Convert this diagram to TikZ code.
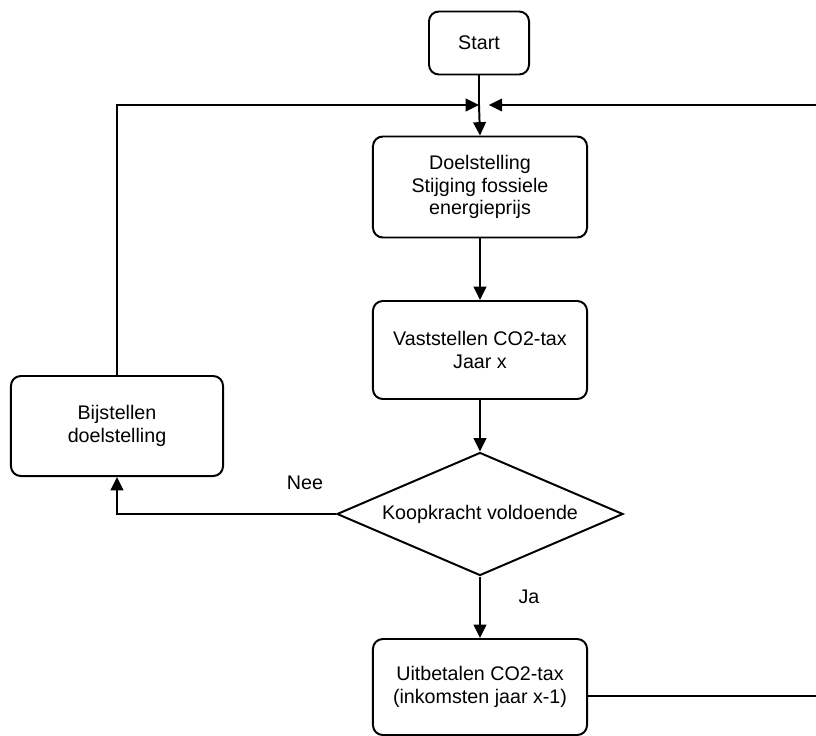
\documentclass[tikz,border=0pt]{standalone}
\usepackage{fontspec}
\setmainfont{Liberation Sans}
\usetikzlibrary{arrows.meta,positioning,calc,shapes.geometric}

\begin{document}
\begin{tikzpicture}[
  x=0.025cm, y=-0.025cm,
  >={Triangle[length=9.5pt,width=9pt]},
  font=\fontsize{14}{16.2}\selectfont,
  stap/.style={draw=black, line width=1.4pt, rounded corners=7pt, fill=white, align=center, inner sep=3pt, minimum width=5.35cm, minimum height=2.45cm},
  keuze/.style={draw=black, line width=1.4pt, diamond, aspect=2.3, inner sep=0pt, minimum width=7.15cm, minimum height=3.075cm, fill=white},
  arr/.style={->, line width=1.4pt, draw=black},
  lijn/.style={line width=1.4pt, draw=black}
]
\useasboundingbox (0,0) rectangle (816,736);
\node[stap, minimum width=2.5cm, minimum height=1.575cm] (start) at (479,43) {Start};
\coordinate (samen) at (479,105);
\node[stap, minimum height=2.525cm] (doel) at (480,187) {Doelstelling\\Stijging fossiele\\energieprijs};
\node[stap] (vast) at (480,350) {Vaststellen CO2-tax\\Jaar x};
\node[keuze] (koop) at (480,514) {Koopkracht voldoende};
\node[stap, minimum width=5.3cm, minimum height=2.5cm] (bij) at (117,426) {Bijstellen\\doelstelling};
\node[stap, minimum height=2.4cm] (uit) at (480,687) {Uitbetalen CO2-tax\\(inkomsten jaar x-1)};
\coordinate (rechtsboven) at (816,105);
\coordinate (rechtsonder) at (816,696);
\node (nee) at (305,483) {Nee};
\node (ja) at (529,597) {Ja};
\draw[lijn] (start.south) -- (samen);
\draw[arr] (samen) -- (doel.north);
\draw[arr] (doel) -- (vast);
\draw[arr] (vast) -- (koop.north);
\draw[arr] (koop.south) -- (uit.north);
\draw[arr] (koop.west) -| (bij.south);
\draw[arr] (bij.north) |- (samen);
\draw[arr, shorten >=7pt] (rechtsboven) -- (samen);
\draw[lijn] (uit.east |- rechtsonder) -- (rechtsonder);
\end{tikzpicture}
\end{document}
